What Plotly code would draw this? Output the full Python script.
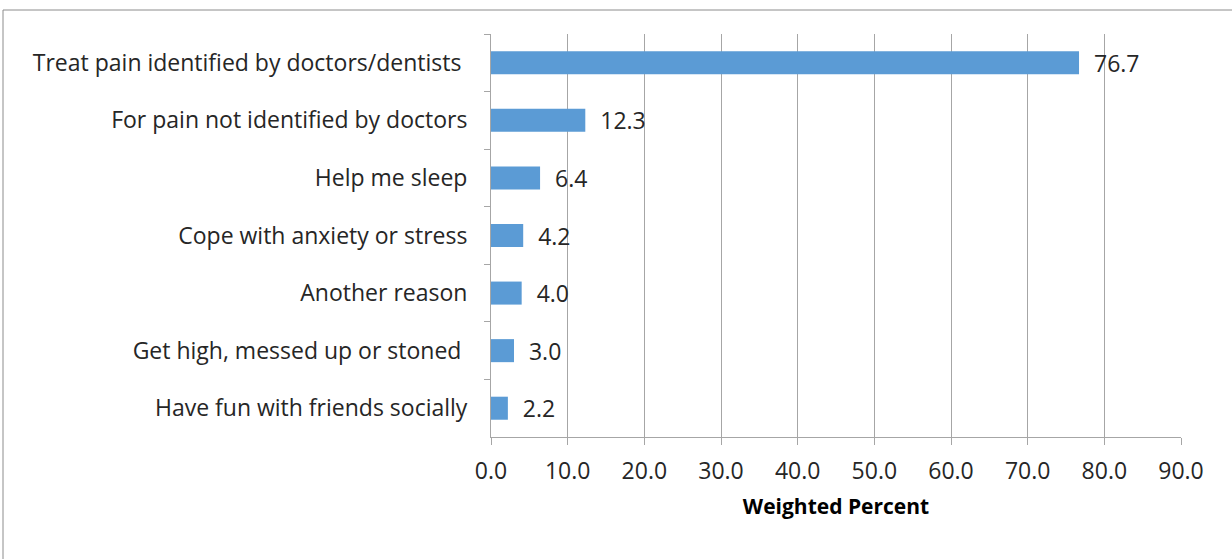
import plotly.graph_objects as go

categories = [
    "Treat pain identified by doctors/dentists\u00a0",
    "For pain not identified by doctors",
    "Help me sleep",
    "Cope with anxiety or stress",
    "Another reason",
    "Get high, messed up or stoned\u00a0",
    "Have fun with friends socially",
]
values = [76.7, 12.3, 6.4, 4.2, 4.0, 3.0, 2.2]
x_ticks = [0, 10, 20, 30, 40, 50, 60, 70, 80, 90]

FONT = "Open Sans, sans-serif"
TXT = "#262626"
GRID = "#A6A6A6"
FS = 23

fig = go.Figure(
    go.Bar(
        x=values,
        y=categories,
        orientation="h",
        marker=dict(color="#5B9BD5", line=dict(width=0)),
        text=["\u00a0\u00a0" + f"{v:.1f}" for v in values],
        textposition="outside",
        constraintext="none",
        textfont=dict(family=FONT, size=FS, color=TXT),
        cliponaxis=False,
        width=0.4,
    )
)

fig.update_layout(
    width=1232,
    height=559,
    margin=dict(l=491, r=51, t=34, b=122),
    paper_bgcolor="white",
    plot_bgcolor="white",
    showlegend=False,
    font=dict(family=FONT, size=FS, color=TXT),
    xaxis=dict(
        range=[0, 90],
        tickvals=x_ticks,
        ticktext=[f"{t:.1f}" for t in x_ticks],
        showgrid=True,
        gridcolor=GRID,
        gridwidth=1,
        showline=True,
        linecolor=GRID,
        linewidth=1,
        ticks="outside",
        ticklen=7,
        tickcolor=GRID,
        ticklabelstandoff=6,
        zeroline=False,
        tickfont=dict(family=FONT, size=FS, color=TXT),
        title=dict(text="<b>Weighted Percent</b>", font=dict(family=FONT, size=21, color="#000000"), standoff=14),
    ),
    yaxis=dict(
        autorange="reversed",
        showline=True,
        linecolor=GRID,
        linewidth=1,
        ticks="outside",
        tickson="boundaries",
        ticklen=6,
        tickcolor=GRID,
        ticklabelstandoff=18,
        showgrid=False,
        tickfont=dict(family=FONT, size=FS, color=TXT),
    ),
    shapes=[
        dict(
            type="rect",
            xref="paper",
            yref="paper",
            x0=(3 - 491) / 690,
            x1=(1245 - 491) / 690,
            y0=-(580 - 437) / 403,
            y1=1 + (34 - 10) / 403,
            line=dict(color="#8C8C8C", width=1),
            fillcolor="rgba(0,0,0,0)",
            layer="below",
        )
    ],
)

fig.write_html("out.html")
